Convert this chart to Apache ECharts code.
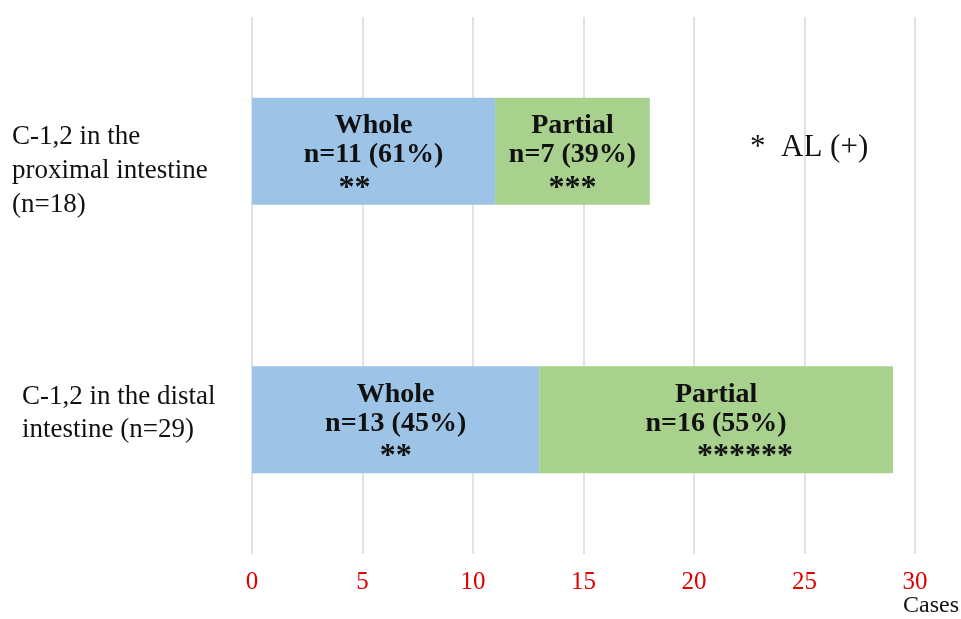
<!DOCTYPE html>
<html>
<head>
<meta charset="utf-8">
<script src="https://cdn.jsdelivr.net/npm/echarts@6/dist/echarts.min.js"></script>
<style>
  html, body { margin: 0; padding: 0; background: #fff; }
  #chart { width: 961px; height: 619px; }
</style>
</head>
<body>
<div id="chart"></div>
<script>
// Categories (top to bottom), one entry per wrapped line
const categories = [
  ['C-1,2 in the', 'proximal intestine', '(n=18)'],
  ['C-1,2 in the distal', 'intestine (n=29)']
];
// Case counts per segment
const wholeCases = [11, 13];
const partialCases = [7, 16];
// Percentages shown in the segment labels
const wholePct = [61, 45];
const partialPct = [39, 55];
// Number of AL(+) cases, marked with asterisks
const wholeAL = [2, 2];
const partialAL = [3, 6];
// X axis ticks
const xTicks = [0, 5, 10, 15, 20, 25, 30];

const SERIF = '"Liberation Serif", "Times New Roman", serif';

// horizontal nudge of the asterisk line inside each segment (px, + = right)
const starShift = { Whole: [-19, 0], Partial: [0, 29] };

function segLabel(name, counts, pcts, al) {
  return function (p) {
    const i = p.dataIndex;
    return '{t|' + name + '}\n{t|n=' + counts[i] + ' (' + pcts[i] + '%)}\n{s' + i + '|' +
      '*'.repeat(al[i]) + '}';
  };
}

function richFor(name) {
  const base = { fontFamily: SERIF, fontWeight: 'bold', fontSize: 28, lineHeight: 29, color: '#111' };
  const r = { t: Object.assign({}, base) };
  for (let i = 0; i < 2; i++) {
    const s = starShift[name][i];
    r['s' + i] = Object.assign({}, base, {
      fontSize: 32,
      letterSpacing: 3,
      padding: s >= 0 ? [8, 0, 0, 2 * s] : [8, -2 * s, 0, 0]
    });
  }
  return r;
}

// category label text: a spacer line shifts the block vertically
function catLabel(value, index) {
  const lines = value.split('\n');
  if (index === 0) {
    return '{gt| }\n' + lines.map(l => '{c0|' + l + '}').join('\n');
  }
  return lines.map(l => '{c1|' + l + '}').join('\n') + '\n{gb| }';
}

const chart = echarts.init(document.getElementById('chart'), null, { renderer: 'canvas' });

chart.setOption({
  animation: false,
  backgroundColor: '#ffffff',
  grid: {
    left: 252, right: 46, top: 17, bottom: 65,
    containLabel: false, outerBoundsMode: 'none'
  },
  xAxis: {
    type: 'value',
    min: xTicks[0],
    max: xTicks[xTicks.length - 1],
    interval: 5,
    name: 'Cases',
    nameLocation: 'end',
    nameGap: 44,
    nameMoveOverlap: false,
    nameTextStyle: {
      fontFamily: SERIF, fontSize: 24, color: '#111',
      align: 'right', verticalAlign: 'top', lineHeight: 24, padding: [40, 0, 0, 0]
    },
    axisLine: { show: false },
    axisTick: { show: false },
    axisLabel: {
      margin: 16,
      fontFamily: SERIF, fontSize: 25, color: '#e00000',
      formatter: v => (xTicks.indexOf(v) >= 0 ? String(v) : '')
    },
    splitLine: { show: true, lineStyle: { color: '#d9d9d9', width: 1.5 } }
  },
  yAxis: {
    type: 'category',
    inverse: true,
    data: categories.map(c => c.join('\n')),
    axisLine: { show: false },
    axisTick: { show: false },
    splitLine: { show: false },
    axisLabel: {
      align: 'left',
      margin: 240,
      fontFamily: SERIF, fontSize: 27, color: '#111',
      formatter: catLabel,
      rich: {
        c0: { fontFamily: SERIF, fontSize: 27, color: '#111', lineHeight: 34, align: 'left' },
        c1: { fontFamily: SERIF, fontSize: 27, color: '#111', lineHeight: 33, align: 'left',
              padding: [0, 0, 0, 10] },
        gt: { fontSize: 10, lineHeight: 40 },
        gb: { fontSize: 10, lineHeight: 12 }
      }
    }
  },
  graphic: [{
    type: 'text',
    left: 750,
    top: 132,
    style: { text: '*  AL (+)', fontFamily: SERIF, fontSize: 31, fill: '#111' }
  }],
  series: [
    {
      name: 'Whole',
      type: 'bar',
      stack: 'total',
      barWidth: 107,
      data: wholeCases,
      itemStyle: { color: '#9dc3e6' },
      label: {
        show: true,
        position: 'inside',
        padding: [8, 0, 0, 0],
        formatter: segLabel('Whole', wholeCases, wholePct, wholeAL),
        rich: richFor('Whole')
      }
    },
    {
      name: 'Partial',
      type: 'bar',
      stack: 'total',
      barWidth: 107,
      data: partialCases,
      itemStyle: { color: '#a9d18e' },
      label: {
        show: true,
        position: 'inside',
        padding: [8, 0, 0, 0],
        formatter: segLabel('Partial', partialCases, partialPct, partialAL),
        rich: richFor('Partial')
      }
    }
  ]
});
</script>
</body>
</html>
